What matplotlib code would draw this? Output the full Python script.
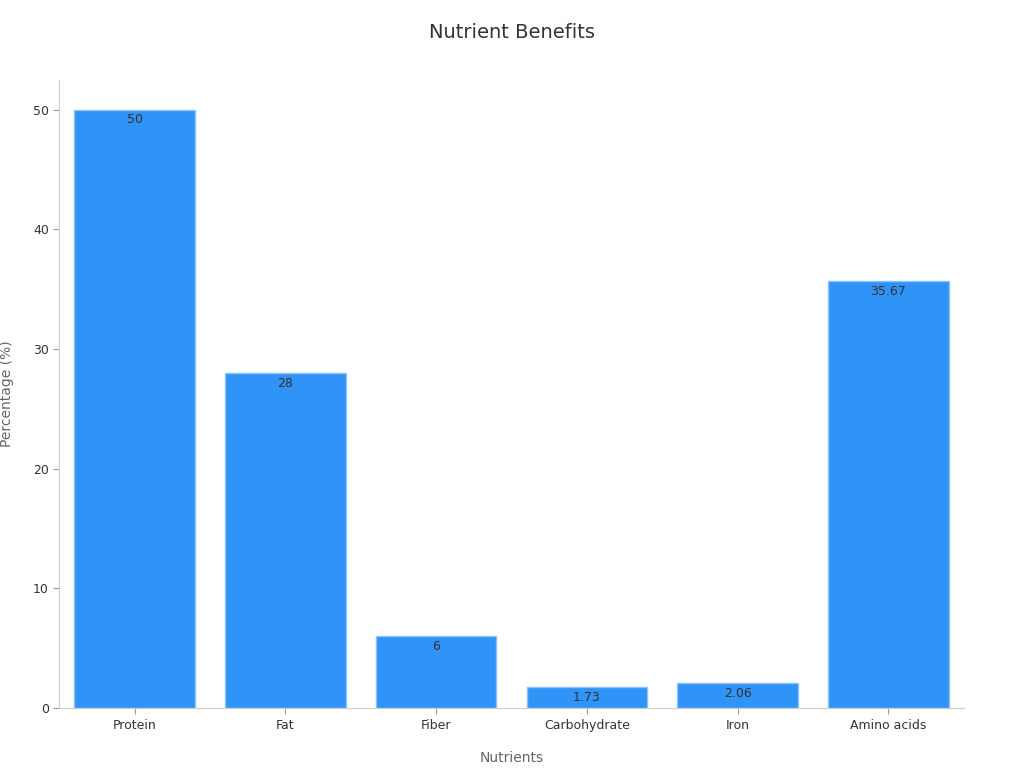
import matplotlib
matplotlib.use("Agg")
import matplotlib.pyplot as plt

categories = ["Protein", "Fat", "Fiber", "Carbohydrate", "Iron", "Amino acids"]
values = [50, 28, 6, 1.73, 2.06, 35.67]
labels = ["50", "28", "6", "1.73", "2.06", "35.67"]

fig = plt.figure(figsize=(10.24, 7.68), dpi=100)
ax = fig.add_axes([0.058, 0.078, 0.883, 0.818])
bars = ax.bar(categories, values, width=0.8, color="#2f93f7", edgecolor="#8cc4f9", linewidth=1)
for b, l in zip(bars, labels):
    ax.text(b.get_x() + b.get_width() / 2, b.get_height() - 0.3, l, ha="center", va="top",
            fontsize=9, color="#333333")
ax.set_xlim(-0.5, 5.5)
ax.set_ylim(0, 52.5)
ax.set_yticks([0, 10, 20, 30, 40, 50])
for s in ["top", "right"]:
    ax.spines[s].set_visible(False)
for s in ["left", "bottom"]:
    ax.spines[s].set_color("#cccccc")
ax.tick_params(colors="#333333", labelsize=9, length=4)
ax.tick_params(axis="both", color="#999999")
ax.set_xlabel("Nutrients", fontsize=10, color="#666666", labelpad=14)
ax.set_ylabel("Percentage (%)", fontsize=10, color="#666666", labelpad=14)
fig.suptitle("Nutrient Benefits", fontsize=14, color="#333333", y=0.97)
fig.savefig("out.png")
